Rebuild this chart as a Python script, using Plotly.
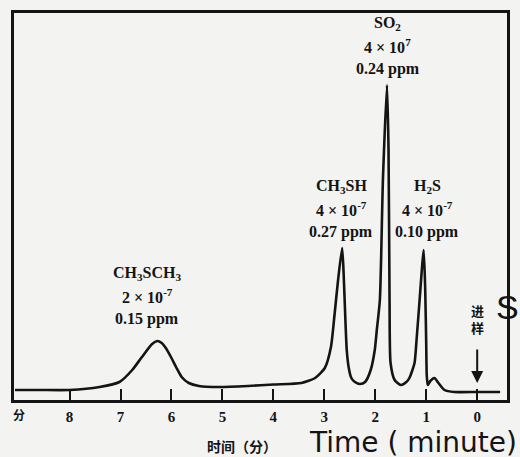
import plotly.graph_objects as go

# Chromatogram trace (time in minutes, signal in arbitrary units)
time_min = [9.07, 8.59, 8.0, 7.41, 7.02, 6.77, 6.58, 6.38, 6.28, 6.19, 6.11, 6.01, 5.91, 5.80,
            5.66, 5.46, 5.07, 4.50, 4.00, 3.45, 3.18, 2.99, 2.87, 2.80, 2.73, 2.65, 2.62, 2.59,
            2.56, 2.52, 2.47, 2.40, 2.30, 2.20, 2.09, 2.01, 1.97, 1.91, 1.85, 1.77, 1.74, 1.72,
            1.70, 1.62, 1.50, 1.39, 1.33, 1.23, 1.19, 1.13, 1.05, 1.02, 1.00, 0.99, 0.97, 0.92,
            0.84, 0.76, 0.64, 0.45, 0.0, -0.45]
signal = [10, 10, 10, 13, 18, 30, 43, 56, 59, 57, 52, 43, 33, 23,
          17, 14, 13, 14, 15.5, 17, 22, 32, 53, 85, 120, 152, 125, 85,
          50, 32, 22, 18, 16, 18, 30, 50, 70, 100, 220, 315, 250, 100,
          37, 20, 15, 18, 22, 37, 60, 100, 150, 110, 55, 25, 15, 19,
          22, 17, 10, 8, 8, 8]

tick_vals = [8, 7, 6, 5, 4, 3, 2, 1, 0]
tick_text = ["8", "7", "6", "5", "4", "3", "2", "1", "0"]

peak_names = ["SO<sub>2</sub>", "CH<sub>3</sub>SH", "H<sub>2</sub>S", "CH<sub>3</sub>SCH<sub>3</sub>"]
peak_areas = ["4 × 10<sup>7</sup>", "4 × 10<sup>-7</sup>", "4 × 10<sup>-7</sup>", "2 × 10<sup>-7</sup>"]
peak_conc = ["0.24 ppm", "0.27 ppm", "0.10 ppm", "0.15 ppm"]
label_x = [1.76, 2.67, 0.98, 6.48]
label_y = [377, 214, 214, 127]

serif = "Liberation Serif"
ink = "#141414"
W, H = 520, 457
L, R, T, B = 14, 10, 13, 57
pw, ph = W - L - R, H - T - B


def px_x(x):
    return (x - L) / pw


def px_y(y):
    return (H - B - y) / ph


fig = go.Figure()
fig.add_trace(go.Scatter(x=time_min, y=signal, mode="lines",
                         line=dict(color=ink, width=2.6, shape="spline", smoothing=0.6),
                         hoverinfo="skip", showlegend=False))

anns = []
for name, area, conc, lx, ly in zip(peak_names, peak_areas, peak_conc, label_x, label_y):
    for i, txt in enumerate([name, area, conc]):
        anns.append(dict(x=lx, y=ly - i * 23, xref="x", yref="y", text=txt, showarrow=False,
                         xanchor="center", yanchor="middle",
                         font=dict(family=serif, size=16, color=ink, weight="bold")))

# injection arrow and label
anns.append(dict(x=0, y=17, ax=0, ay=52, xref="x", yref="y", axref="x", ayref="y", text="",
                 showarrow=True, arrowhead=2, arrowsize=1.2, arrowwidth=2, arrowcolor=ink))
anns.append(dict(x=0, y=81, xref="x", yref="y", text="进<br>样", showarrow=False,
                 xanchor="center", yanchor="middle",
                 font=dict(family="Noto Sans CJK SC", size=13, color=ink, weight="bold")))
# handwritten fragment at right edge
anns.append(dict(x=px_x(497), y=px_y(307), xref="paper", yref="paper", text="Sa", showarrow=False,
                 xanchor="left", yanchor="middle",
                 font=dict(family="Liberation Sans", size=34, color=ink)))
# unit label at left of tick labels
anns.append(dict(x=px_x(19), y=px_y(414), xref="paper", yref="paper", text="分", showarrow=False,
                 xanchor="center", yanchor="middle",
                 font=dict(family="Noto Sans CJK SC", size=12, color=ink, weight="bold")))
# axis titles
anns.append(dict(x=px_x(243), y=px_y(446), xref="paper", yref="paper", text="时间（分）",
                 showarrow=False, xanchor="center", yanchor="middle",
                 font=dict(family="Noto Sans CJK SC", size=14, color=ink, weight="bold")))
anns.append(dict(x=px_x(415), y=px_y(442), xref="paper", yref="paper", text="Time ( minute)",
                 showarrow=False, xanchor="center", yanchor="middle",
                 font=dict(family="DejaVu Sans", size=28, color=ink)))

fig.update_layout(
    width=W, height=H,
    margin=dict(l=L, r=R, t=T, b=B),
    paper_bgcolor="#f3f3f1", plot_bgcolor="#f3f3f1",
    xaxis=dict(range=[9.09, -0.585], tickvals=tick_vals, ticktext=tick_text,
               ticks="inside", ticklen=11, tickwidth=2, tickcolor=ink,
               showline=True, mirror=True, linecolor=ink, linewidth=2.5,
               showgrid=False, zeroline=False, ticklabelstandoff=1,
               tickfont=dict(family=serif, size=15, color=ink, weight="bold")),
    yaxis=dict(range=[0, 387], showticklabels=False, ticks="",
               showline=True, mirror=True, linecolor=ink, linewidth=2.5,
               showgrid=False, zeroline=False),
    annotations=anns,
)

fig.write_html("out.html", config={"displayModeBar": False},
               post_script="document.body.style.margin='0';document.body.style.padding='0';"
                           "document.body.style.overflow='hidden';")
